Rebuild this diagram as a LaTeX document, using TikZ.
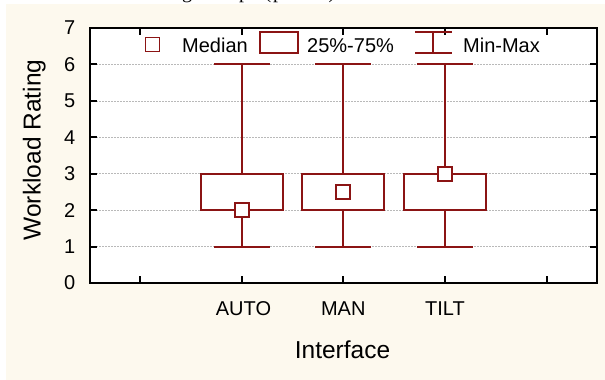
\documentclass[tikz,border=0pt]{standalone}
\usepackage{fontspec}
\setmainfont{Liberation Sans}
\newfontfamily\serifttl{Liberation Serif}
\definecolor{cream}{RGB}{253,249,238}
\definecolor{boxred}{RGB}{139,20,20}
\definecolor{gridgray}{RGB}{185,185,185}
\begin{document}
\begin{tikzpicture}[x=1pt,y=-1pt,
  boxline/.style={draw=boxred, line width=2pt},
  medsq/.style={rectangle, draw=boxred, fill=white, line width=1.1pt, minimum size=14pt, inner sep=0pt},
  gridline/.style={draw=gridgray, line width=0.7pt, dash pattern=on 1.5pt off 1.5pt},
  frameline/.style={draw=black, line width=1.6pt},
  tickline/.style={draw=black, line width=1.4pt},
  lbl/.style={inner sep=0pt, font=\fontsize{20}{24}\selectfont},
  ttl/.style={inner sep=0pt, font=\fontsize{24.5}{29}\selectfont},
  topttl/.style={inner sep=0pt, font=\serifttl\fontsize{20}{24}\selectfont}]
\useasboundingbox (0,0) rectangle (605,380);
\fill[white] (0,0) rectangle (605,380);
\fill[cream] (6,4) rectangle (605,380);
% clipped fragments of a title above the picture
\begin{scope}
\clip (0,0) rectangle (605,4);
\node[topttl, anchor=base] (t1) at (187,-1.2) {g};
\node[topttl, anchor=base] (t2) at (244,-1.2) {p};
\node[topttl, anchor=base] (t3) at (268,-1.2) {(};
\node[topttl, anchor=base] (t4) at (278,-1.2) {p};
\node[topttl, anchor=base] (t5) at (332,-1.2) {)};
\end{scope}
% plot area
\fill[white] (90,28) rectangle (597,283);
\foreach \yy in {246.6,210.1,173.7,137.3,100.9,64.4}
  \draw[gridline] (90,\yy) -- (597,\yy);
% box plots
\foreach \x/\m/\nm in {242/210/auto, 343/192/man, 445/174/tilt} {
  \draw[boxline] (\x,64) -- (\x,174);
  \draw[boxline] (\x,210) -- (\x,247);
  \draw[boxline] (\x-28,64) -- (\x+28,64);
  \draw[boxline] (\x-28,247) -- (\x+28,247);
  \draw[boxline] (\x-41,174) rectangle (\x+41,210);
  \node[medsq] (med\nm) at (\x,\m) {};
}
% frame and ticks
\draw[frameline] (90,28) rectangle (597,283);
\foreach \x in {140,242,343,445,547} {
  \draw[tickline] (\x,283) -- (\x,276);
  \draw[tickline] (\x,28) -- (\x,35);
}
\foreach \yy in {247,210,174,137,101,64} {
  \draw[tickline] (90,\yy) -- (97,\yy);
  \draw[tickline] (597,\yy) -- (590,\yy);
}
% y tick labels
\foreach \v/\yy in {0/283,1/246.6,2/210.1,3/173.7,4/137.3,5/100.9,6/64.4,7/28}
  \node[lbl, anchor=east] (y\v) at (75.5,\yy) {\v};
% x tick labels
\node[lbl, anchor=base] (xauto) at (243.5,315.5) {AUTO};
\node[lbl, anchor=base] (xman) at (343.3,315.5) {MAN};
\node[lbl, anchor=base] (xtilt) at (445,315.5) {TILT};
% axis titles
\node[ttl, anchor=base] (xtitle) at (342.5,358) {Interface};
\node[ttl, anchor=base, rotate=90] (ytitle) at (40.5,150) {Workload Rating};
% legend
\node[medsq] (legmed) at (152.5,44.5) {};
\node[lbl, anchor=base west] (legmedt) at (182,52.3) {Median};
\draw[boxline] (260,32) rectangle (298,53);
\node[lbl, anchor=base west] (legboxt) at (307,52.3) {25\%-75\%};
\draw[boxline] (415,32) -- (452,32);
\draw[boxline] (415,53) -- (452,53);
\draw[boxline] (433,32) -- (433,53);
\node[lbl, anchor=base west] (legmmt) at (463,52.3) {Min-Max};
\end{tikzpicture}
\end{document}
